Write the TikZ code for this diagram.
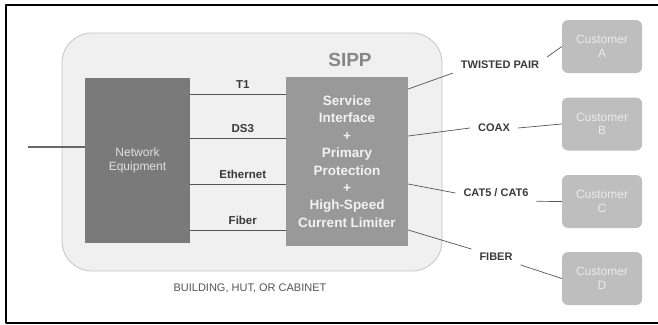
\documentclass[tikz,border=0pt]{standalone}
\usepackage{fontspec}
\setmainfont{Liberation Sans}
\usetikzlibrary{positioning}
\definecolor{netgray}{HTML}{7A7A7A}
\definecolor{svcgray}{HTML}{999999}
\definecolor{custgray}{HTML}{BEBEBE}
\definecolor{sippfill}{HTML}{F0F0F0}
\definecolor{sippline}{HTML}{C4C4C4}
\definecolor{wiregray}{HTML}{555555}
\definecolor{labelgray}{HTML}{3A3A3A}
\begin{document}
\begin{tikzpicture}[x=1pt, y=-1pt, line join=round, line cap=round]
	\tikzset{
		wire/.style={draw=wiregray, line width=0.7pt},
		netbox/.style={fill=netgray, minimum width=105, minimum height=165, align=center, text=white!88!black, font=\fontsize{12}{13.6}\selectfont},
		svcbox/.style={fill=svcgray, minimum width=122, minimum height=169, align=center, text=white!95!black, font=\bfseries\fontsize{13.5}{17.4}\selectfont},
		custbox/.style={fill=custgray, rounded corners=6, minimum width=80, minimum height=53, align=center, text=white!92!black, font=\fontsize{12}{13.6}\selectfont},
		linklabel/.style={text=labelgray, inner sep=5pt, font=\bfseries\fontsize{11.5}{13}\selectfont},
		medlabel/.style={text=labelgray, inner xsep=8pt, inner ysep=4pt, font=\bfseries\fontsize{11}{13}\selectfont}
	}
	\useasboundingbox (0,0) rectangle (658,324);
	\draw[line width=2pt, line cap=butt] (658,5) -- (6,5) -- (6,322.5) -- (658,322.5);
	% SIPP enclosure
	\draw[draw=sippline, fill=sippfill, line width=0.8pt, rounded corners=30] (62,33) rectangle (442,271);
	\node[text=netgray!90!white, font=\bfseries\fontsize{19}{22}\selectfont] (sipp) at (350,60) {SIPP};
	\node[text=wiregray, font=\fontsize{11}{13}\selectfont] (bldg) at (250,288) {BUILDING, HUT, OR CABINET};
	% equipment
	\node[netbox] (net) at (137.5,160.5) {Network\\Equipment};
	\node[svcbox] (svc) at (347,161.5) {Service\\Interface\\+\\Primary\\Protection\\+\\High-Speed\\Current Limiter};
	\coordinate (feed) at (28,147);
	\draw[draw=netgray!85!black, line width=2.5pt, line cap=butt] (feed) -- (net.west |- feed);
	\foreach \y/\t in {94/T1,138/DS3,184/Ethernet,230/Fiber}
		\draw[wire] (net.east |- 0,\y) -- node[linklabel, above, pos=0.55]{\t} (svc.west |- 0,\y);
	% customers
	\foreach \c/\y in {A/46.5,B/124,C/201.5,D/278.5}
		\node[custbox] (c\c) at (602,\y) {Customer\\\c};
	\node[medlabel] (tp) at (500,65) {TWISTED PAIR};
	\node[medlabel] (coax) at (494,128) {COAX};
	\node[medlabel] (cat) at (496,193) {CAT5 / CAT6};
	\node[medlabel] (fib) at (496,257) {FIBER};
	\foreach \s/\n/\c/\i/\o in {72.5/tp/A/south west/north east, 25.5/coax/B/west/east, -22.5/cat/C/west/south east, -68.5/fib/D/north west/south east}{
		\draw[wire] ([yshift=\s]svc.east) -- (\n.\i);
		\draw[wire] (\n.\o) -- (c\c.west);
	}
\end{tikzpicture}
\end{document}
